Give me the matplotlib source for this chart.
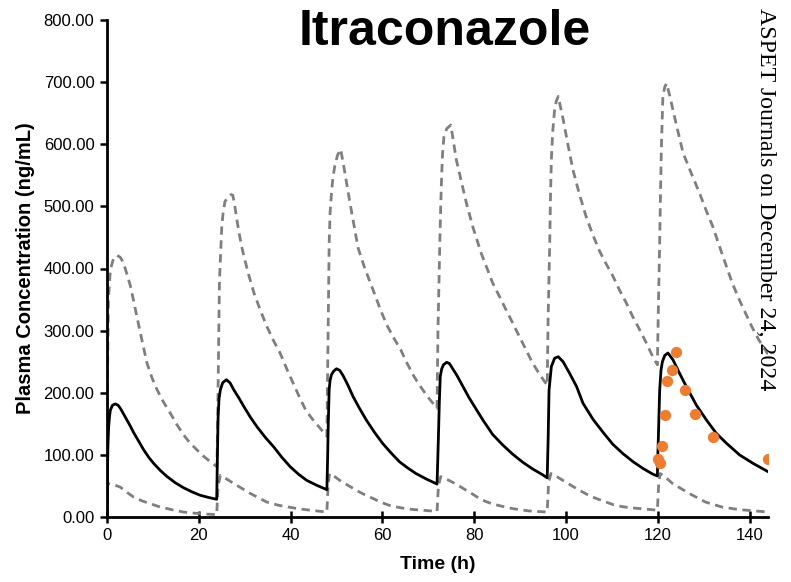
import matplotlib
matplotlib.use("Agg")
import matplotlib.pyplot as plt

# ---- data (hours, ng/mL) ----
mean_t = [0, 0.1, 0.2, 0.36, 0.55, 0.73, 1.2, 1.8, 2.4, 2.9, 3.6, 4.35, 5.1, 5.8, 6.9, 8.0, 9.1,
          10.2, 11.6, 13.1, 14.9, 16.7, 18.5, 20.3, 22.1, 23.9,
          24.05, 24.2, 24.4, 24.7, 25.2, 26.0, 26.8, 27.6, 28.7, 29.8, 31.2, 32.7, 34.5, 36.3,
          38.1, 39.9, 41.7, 43.5, 45.7, 47.9,
          48.05, 48.2, 48.4, 48.6, 48.9, 49.4, 50.0, 50.7, 51.4, 52.5, 53.6, 55.0, 56.5, 58.3,
          60.1, 61.9, 63.7, 65.5, 67.3, 69.6, 71.9,
          72.05, 72.2, 72.4, 72.6, 72.9, 73.3, 74.0, 74.6, 75.2, 76.3, 77.4, 78.8, 80.3, 81.9,
          84.0, 86.2, 88.4, 90.6, 92.8, 94.9, 95.9,
          96.0, 96.1, 96.3, 96.8, 97.5, 98.3, 99.35, 100.8, 102.3, 103.7, 105.9, 108.1, 110.2,
          112.4, 114.6, 116.8, 118.9, 119.9,
          120.0, 120.1, 120.4, 120.7, 121.0, 121.5, 122.2, 123.3, 124.75, 126.2, 128.4, 130.6,
          132.7, 134.9, 137.8, 140.7, 144.0]
mean_c = [0, 70, 115, 145, 162, 172, 180, 182, 180, 175, 166, 156, 146, 136, 122, 108, 96,
          86, 75, 65, 55, 47, 40.5, 35, 31.5, 28.5,
          97, 160, 190, 205, 216, 221, 216, 205, 192, 178, 161, 145, 128, 113,
          96, 81, 69, 59, 51, 44,
          90, 150, 205, 220, 229, 235, 238.6, 236, 228, 212, 194, 175, 156, 136,
          118, 103, 89, 79, 70, 61, 53,
          90, 129, 185, 226, 238, 245, 249, 247, 240, 227, 212, 193, 175, 156,
          133, 116, 101, 88, 77, 68, 63,
          95, 124, 204, 242, 255.5, 258, 250, 231, 210, 183, 157, 136, 117,
          102, 89, 78, 69, 66,
          100, 124, 204, 237, 250, 260, 264, 253, 231, 210, 180, 156,
          135, 119, 100, 86.5, 73]

upper_t = [0, 0.1, 0.3, 0.73, 1.45, 2.2, 2.9, 3.6, 4.3, 5.1, 5.8, 6.5, 7.6, 8.7, 9.8, 10.9,
           12.3, 13.8, 15.2, 16.7, 18.1, 19.6, 21.0, 22.5, 23.95,
           24.1, 24.5, 24.75, 25.0, 25.3, 25.7, 26.5, 27.0, 27.4, 27.8, 28.2, 28.8, 29.5, 30.7,
           32.0, 33.4, 34.8, 36.2, 37.7, 39.3, 41.0, 42.1, 43.3, 44.7, 46.2, 47.9,
           48.1, 48.4, 48.6, 48.9, 49.2, 49.6, 50.2, 50.9, 51.5, 52.2, 52.9, 53.6, 54.7, 56.0,
           57.1, 58.2, 59.6, 61.1, 62.5, 64.0, 65.4, 66.9, 68.3, 69.8, 71.9,
           72.1, 72.5, 72.7, 72.9, 73.1, 73.4, 74.0, 74.9, 75.5, 76.1, 77.2, 78.3, 79.7, 81.5,
           84.0, 85.5, 86.9, 88.4, 89.8, 91.3, 92.7, 94.3, 95.9,
           96.1, 96.45, 96.6, 96.8, 97.1, 97.5, 97.9, 98.3, 98.8, 99.4, 100.4, 101.5, 102.9,
           104.4, 105.8, 107.3, 108.7, 110.2, 111.6, 113.1, 114.5, 116.0, 117.5, 118.9, 119.9,
           120.1, 120.4, 120.6, 120.8, 121.1, 121.5, 121.9, 122.6, 123.3, 124.4, 125.5, 127.3,
           129.1, 130.5, 132.0, 133.1, 134.2, 135.2, 136.2, 137.6, 139.1, 140.5, 142.0, 144.0]
upper_c = [0, 215, 350, 398, 417, 421, 418, 409, 392, 372, 348, 323, 285, 248, 224, 205,
           185, 167, 149, 132, 119, 108, 98, 89, 81,
           150, 380, 425, 467, 490, 508, 516, 519, 518, 503, 483, 456, 430, 394,
           361, 333, 307, 285, 264, 236, 208, 190, 172, 158, 145, 130,
           250, 441, 490, 521, 545, 564, 582, 592, 568, 537, 507, 478, 433, 404,
           382, 361, 333, 307, 288, 269, 247, 226, 210, 194, 175,
           300, 441, 500, 548, 585, 612, 625, 631, 603, 575, 540, 505, 467, 425,
           377, 355, 334, 312, 291, 269, 248, 229, 212,
           320, 441, 510, 575, 620, 655, 670, 677, 660, 639, 600, 559, 520,
           483, 455, 428, 408, 388, 366, 345, 323, 302, 280, 258, 245,
           330, 441, 530, 602, 677, 692, 698, 678, 655, 620, 586, 553,
           521, 494, 467, 443, 419, 398, 377, 352, 328, 306, 285, 262]

lower_t = [0, 0.1, 1.5, 2.9, 4.3, 5.8, 7.6, 9.4, 11.2, 13.1, 14.9, 16.7, 18.5, 20.3, 22.1, 23.9,
           24.2, 24.7, 26.1, 27.6, 29.4, 31.2, 33.0, 34.8, 37.3, 39.9, 42.0, 44.2, 46.0, 47.9,
           48.2, 48.5, 49.6, 50.7, 52.5, 54.3, 56.1, 57.9, 59.6, 61.4, 63.2, 65.0, 66.8, 68.6,
           70.2, 71.9,
           72.2, 72.7, 74.2, 75.8, 77.6, 79.4, 81.1, 82.5, 84.0, 86.2, 88.4, 90.2, 92.0, 94.0, 95.9,
           96.2, 96.7, 98.0, 99.3, 101.1, 102.9, 104.7, 106.5, 108.4, 110.2, 112.0, 113.8, 116.9,
           119.9,
           120.2, 120.5, 121.8, 123.2, 125.0, 126.8, 128.6, 130.4, 132.2, 134.0, 135.8, 137.6,
           140.8, 144.0]
lower_c = [0, 54, 52, 48, 40, 32, 26, 21.5, 17, 13.5, 10.5, 8, 6.5, 5.4, 4.5, 3.8,
           50, 67, 61, 54, 46, 38, 31, 24, 19, 15.5, 13, 11, 9.5, 8,
           55, 70, 65, 59, 51, 43, 36, 30, 24, 19, 16, 13.5, 12, 11,
           10, 9,
           50, 65, 60, 54, 46, 38, 30, 25, 21, 17, 13.5, 11.5, 9.7, 8.8, 8,
           55, 70, 65, 59, 51, 43, 36, 30, 25, 20, 17, 15, 13,
           11,
           55, 70, 63, 54, 46, 38, 31, 24, 20, 16, 14, 12,
           10, 8]

obs_t = [120.0, 120.5, 121.0, 121.5, 122.0, 123.0, 124.0, 126.0, 128.0, 132.0, 144.0]
obs_c = [94, 87, 114, 164, 219, 236, 265, 205, 165, 128, 93]

x_ticks = [0, 20, 40, 60, 80, 100, 120, 140]
y_ticks = [0, 100, 200, 300, 400, 500, 600, 700, 800]

# ---- figure ----
plt.rcParams['font.family'] = ['Liberation Sans', 'DejaVu Sans']
fig = plt.figure(figsize=(7.91, 5.82), dpi=100)
ax = fig.add_axes([107/791, 65/582, (768-107)/791, (517-20)/582])

gray = '#7f7f7f'
ax.plot(upper_t, upper_c, color=gray, lw=2, linestyle=(0, (3, 2)), zorder=2)
ax.plot(lower_t, lower_c, color=gray, lw=2, linestyle=(0, (3, 2)), zorder=2)
ax.plot(mean_t, mean_c, color='black', lw=2, zorder=3, solid_joinstyle='round')
ax.scatter(obs_t, obs_c, s=66, color='#ED7D31', zorder=4, linewidths=0)

ax.set_xlim(0, 144)
ax.set_ylim(0, 800)
ax.set_xticks(x_ticks)
ax.set_yticks(y_ticks)
ax.set_yticklabels([f"{v:.2f}" for v in y_ticks])
ax.tick_params(axis='y', direction='out', length=5, width=1.8, labelsize=12, pad=4)
ax.tick_params(axis='x', direction='inout', length=8, width=1.8, labelsize=12, pad=4)
for s in ['top', 'right']:
    ax.spines[s].set_visible(False)
for s in ['left', 'bottom']:
    ax.spines[s].set_linewidth(2)

ax.set_xlabel('Time (h)', fontsize=14, fontweight='bold', labelpad=9)
ax.set_ylabel('Plasma Concentration (ng/mL)', fontsize=14.5, fontweight='bold', labelpad=6)

fig.text(445/791, 1 - 45/582, 'Itraconazole', fontsize=36, fontweight='bold',
         ha='center', va='baseline')
fig.text(766/791, 1 - 8/582, 'ASPET Journals on December 24, 2024', rotation=-90,
         fontsize=17.2, family='Liberation Serif', ha='center', va='top')

fig.savefig('out.png', dpi=100)
